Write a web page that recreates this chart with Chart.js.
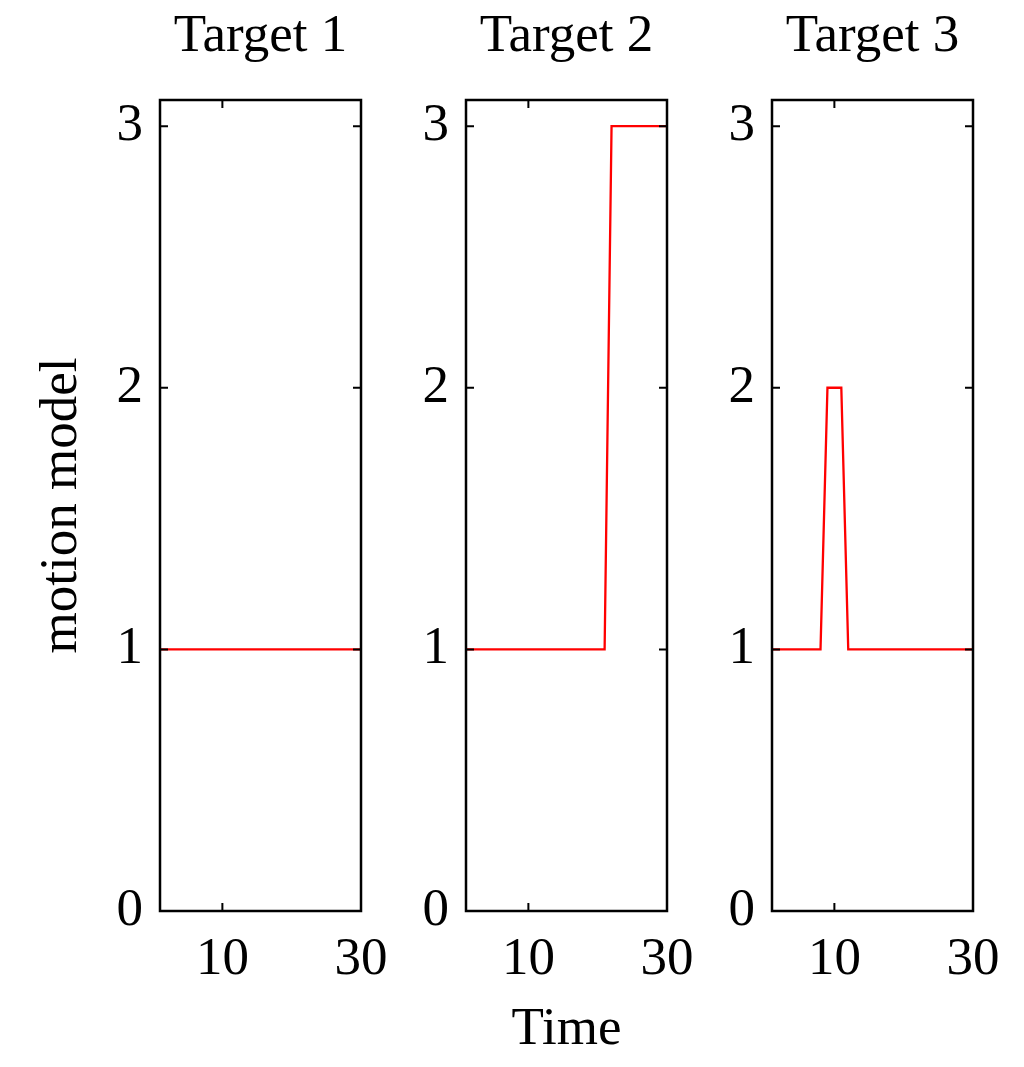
<!DOCTYPE html>
<html>
<head>
<meta charset="utf-8">
<script src="https://cdn.jsdelivr.net/npm/chart.js@4.4.0/dist/chart.umd.min.js"></script>
<style>
  body { margin: 0; background: #fff; }
  #wrap { position: relative; width: 1024px; height: 1067px; }
  canvas { position: absolute; top: 0; }
</style>
</head>
<body>
<div id="wrap">
  <canvas id="c1" width="406" height="1067" style="left:0px"></canvas>
  <canvas id="c2" width="406" height="1067" style="left:306px"></canvas>
  <canvas id="c3" width="406" height="1067" style="left:612px"></canvas>
</div>
<script>
const time = [1, 2, 3, 4, 5, 6, 7, 8, 9, 10, 11, 12, 13, 14, 15, 16, 17, 18, 19, 20, 21, 22, 23, 24, 25, 26, 27, 28, 29, 30];
const target1 = [1, 1, 1, 1, 1, 1, 1, 1, 1, 1, 1, 1, 1, 1, 1, 1, 1, 1, 1, 1, 1, 1, 1, 1, 1, 1, 1, 1, 1, 1];
const target2 = [1, 1, 1, 1, 1, 1, 1, 1, 1, 1, 1, 1, 1, 1, 1, 1, 1, 1, 1, 1, 1, 3, 3, 3, 3, 3, 3, 3, 3, 3];
const target3 = [1, 1, 1, 1, 1, 1, 1, 1, 2, 2, 2, 1, 1, 1, 1, 1, 1, 1, 1, 1, 1, 1, 1, 1, 1, 1, 1, 1, 1, 1];
const titles = ['Target 1', 'Target 2', 'Target 3'];
const xTicks = [10, 30];
const yTicks = [0, 1, 2, 3];

const serif = "'Liberation Serif', 'Times New Roman', serif";

// box round the plot with inward ticks on all four sides
const boxTicks = {
  id: 'boxTicks',
  afterDraw(chart) {
    const { ctx, chartArea: a, scales } = chart;
    ctx.save();
    ctx.strokeStyle = '#000';
    ctx.lineWidth = 2.5;
    ctx.strokeRect(a.left, a.top, a.right - a.left, a.bottom - a.top);
    ctx.beginPath();
    xTicks.forEach(v => {
      const px = scales.x.getPixelForValue(v);
      ctx.moveTo(px, a.bottom); ctx.lineTo(px, a.bottom - 8);
      ctx.moveTo(px, a.top); ctx.lineTo(px, a.top + 8);
    });
    yTicks.forEach(v => {
      const py = scales.y.getPixelForValue(v);
      ctx.moveTo(a.left, py); ctx.lineTo(a.left + 8, py);
      ctx.moveTo(a.right, py); ctx.lineTo(a.right - 8, py);
    });
    ctx.lineWidth = 2;
    ctx.stroke();
    ctx.restore();
  }
};

function makeChart(id, values, idx) {
  const ctx = document.getElementById(id).getContext('2d');
  return new Chart(ctx, {
    type: 'line',
    data: {
      datasets: [{
        data: time.map((t, i) => ({ x: t, y: values[i] })),
        borderColor: '#ff0000',
        borderWidth: 2.3,
        pointRadius: 0,
        tension: 0,
        fill: false
      }]
    },
    options: {
      responsive: false,
      animation: false,
      layout: { padding: { left: 0, right: 45, top: 0, bottom: 0 } },
      plugins: {
        legend: { display: false },
        tooltip: { enabled: false },
        title: {
          display: true,
          text: titles[idx],
          fullSize: false,
          color: '#000',
          font: { family: serif, size: 53, weight: 'normal' },
          padding: { top: 5, bottom: 31.4 }
        }
      },
      scales: {
        x: {
          type: 'linear',
          min: 1,
          max: 30,
          afterBuildTicks: s => { s.ticks = xTicks.map(v => ({ value: v })); },
          afterFit: s => { s.height = 156; },
          grid: { display: false, drawTicks: false },
          border: { display: false },
          ticks: { color: '#000', padding: 17, maxRotation: 0, font: { family: serif, size: 53 } },
          title: {
            display: idx === 1,
            text: 'Time',
            color: '#000',
            font: { family: serif, size: 53 },
            padding: { top: 0, bottom: 5 }
          }
        },
        y: {
          min: 0,
          max: 3.1,
          afterBuildTicks: s => { s.ticks = yTicks.map(v => ({ value: v })); },
          afterFit: s => { s.width = 160; },
          grid: { display: false, drawTicks: false },
          border: { display: false },
          ticks: { color: '#000', padding: 17, font: { family: serif, size: 53 } },
          title: {
            display: idx === 0,
            text: 'motion model',
            color: '#000',
            font: { family: serif, size: 53 },
            padding: { top: 30, bottom: 0 }
          }
        }
      }
    },
    plugins: [boxTicks]
  });
}

makeChart('c1', target1, 0);
makeChart('c2', target2, 1);
makeChart('c3', target3, 2);
</script>
</body>
</html>
